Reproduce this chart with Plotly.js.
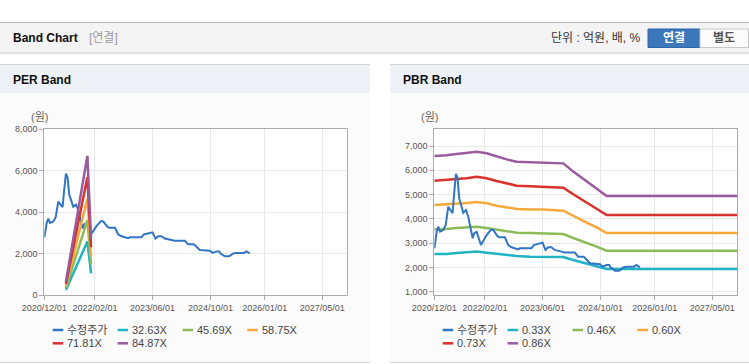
<!DOCTYPE html>
<html><head><meta charset="utf-8">
<script src="https://cdn.plot.ly/plotly-3.0.1.min.js"></script>
<style>html,body{margin:0;padding:0;background:#fff;}#chart{width:749px;height:364px;}</style>
</head><body><div id="chart"></div>
<script>
// ---- data ----
const priceName = '수정주가';
const priceDates = ['2020-12-02','2020-12-21','2021-01-04','2021-01-18','2021-02-15','2021-03-07','2021-03-29','2021-04-18','2021-05-04','2021-05-15','2021-06-01','2021-06-15','2021-06-29','2021-07-19','2021-08-02','2021-08-25','2021-09-13','2021-09-27','2021-10-20','2021-11-01','2021-11-23','2021-12-07','2021-12-29','2022-01-18','2022-02-15','2022-03-24','2022-04-12','2022-05-16','2022-06-01','2022-07-19','2022-08-16','2022-09-13','2022-11-08','2022-11-22','2023-02-28','2023-03-20','2023-05-04','2023-06-01','2023-06-26','2023-07-18','2023-08-15','2023-09-12','2023-11-07','2023-12-05','2024-02-28','2024-03-27','2024-05-14','2024-07-04','2024-09-27','2024-10-19','2024-11-22','2024-12-14','2024-12-25','2025-01-31','2025-03-08','2025-04-11','2025-05-03','2025-07-10','2025-08-01','2025-08-15','2025-08-29'];
const priceValues = [2785,3470,3680,3470,3540,3750,4500,4360,4230,4910,5850,5670,4840,4500,4250,4360,4090,3750,3200,3400,3470,3250,2920,3090,3330,3560,3540,3290,3240,3240,2920,2830,2740,2785,2785,2920,2990,3020,2720,2830,2830,2720,2650,2610,2610,2440,2440,2170,2130,2030,2100,2100,2000,1865,1865,2000,2030,2030,2100,2060,2000];

const perBandDates = ['2021-06-01','2021-11-29','2021-12-30'];
const perNames = ['32.63X','45.69X','58.75X','71.81X','84.87X'];
const per3263 = [240, 2578, 1045];
const per4569 = [336, 3610, 1463];
const per5875 = [432, 4641, 1881];
const per7181 = [528, 5673, 2299];
const per8487 = [624, 6705, 2717];

const pbrBandDates = ['2020-12-01','2021-03-15','2021-06-07','2021-08-30','2021-11-23','2022-02-15','2022-05-10','2022-08-02','2022-10-26','2023-02-15','2023-06-07','2023-11-23','2024-02-15','2024-06-06','2024-08-30','2024-11-22','2027-11-28'];
const pbrNames = ['0.33X','0.46X','0.60X','0.73X','0.86X'];
const pbr033 = [2550,2550,2590,2605,2650,2605,2550,2495,2470,2440,2440,2430,2305,2150,2030,1935,1935];
const pbr046 = [3570,3580,3620,3635,3675,3620,3555,3485,3430,3415,3405,3375,3210,3020,2855,2690,2690];
const pbr060 = [4570,4595,4625,4650,4690,4640,4540,4460,4405,4380,4380,4335,4115,3840,3650,3415,3415];
const pbr073 = [5570,5600,5640,5670,5735,5670,5560,5460,5365,5340,5325,5285,5010,4665,4420,4160,4160];
const pbr086 = [6590,6615,6670,6725,6765,6700,6560,6450,6355,6330,6315,6285,5945,5530,5215,4940,4940];

const xTickVals = ['2020-12-01','2022-02-01','2023-06-01','2024-10-01','2026-01-01','2027-05-01'];
const xTickText = ['2020/12/01','2022/02/01','2023/06/01','2024/10/01','2026/01/01','2027/05/01'];
const perYTicks = [0,2000,4000,6000,8000];
const pbrYTicks = [1000,2000,3000,4000,5000,6000,7000];

// ---- styles ----
const W = 749, H = 364;
const px = x => x / W, py = y => 1 - y / H;
const priceColor = '#3275c4';
const bandColors = ['#1fb3c4','#8dbb5a','#f5a93b','#d7322b','#9a5a9e'];
const FONT = '"Liberation Sans", "Noto Sans CJK KR", Arial, sans-serif';
const xRange = ['2020-12-01','2027-11-28'];

const perBands = [per3263, per4569, per5875, per7181, per8487];
const pbrBands = [pbr033, pbr046, pbr060, pbr073, pbr086];

const traces = [];
traces.push({x: priceDates, y: priceValues, type:'scatter', mode:'lines', name: priceName, xaxis:'x', yaxis:'y', line:{color: priceColor, width:2}});
perBands.forEach((v,i) => traces.push({x: perBandDates, y: v, type:'scatter', mode:'lines', name: perNames[i], xaxis:'x', yaxis:'y', line:{color: bandColors[i], width:2.5}}));
pbrBands.forEach((v,i) => traces.push({x: pbrBandDates, y: v, type:'scatter', mode:'lines', name: pbrNames[i], xaxis:'x2', yaxis:'y2', line:{color: bandColors[i], width:2.5}}));
traces.push({x: priceDates, y: priceValues, type:'scatter', mode:'lines', name: priceName, xaxis:'x2', yaxis:'y2', line:{color: priceColor, width:2}});

function xAxis(d0, d1, anchor){
  return {domain:[px(d0), px(d1)], anchor: anchor, type:'date', range: xRange, tickmode:'array', tickvals: xTickVals, ticktext: xTickText,
    showgrid:true, gridcolor:'#e8e8e8', gridwidth:1, showline:true, linecolor:'#ababab', linewidth:1, mirror:true,
    ticks:'outside', ticklen:4, tickcolor:'#ababab', tickfont:{size:9, color:'#555', family: FONT}, zeroline:false, fixedrange:true};
}
function yAxis(range, ticks, anchor){
  return {domain:[py(295), py(129)], anchor: anchor, range: range, tickmode:'array', tickvals: ticks, tickformat:',d',
    showgrid:true, gridcolor:'#e8e8e8', gridwidth:1, showline:true, linecolor:'#ababab', linewidth:1, mirror:true,
    ticks:'outside', ticklen:4, tickcolor:'#ababab', tickfont:{size:9, color:'#555', family: FONT}, zeroline:false, fixedrange:true};
}

const shapes = [];
const annotations = [];
function rect(x0,y0,x1,y1,fill,line){ shapes.push({type:'rect', xref:'paper', yref:'paper', x0:px(x0), x1:px(x1), y0:py(y1), y1:py(y0), fillcolor:fill, line: line ? {color: line, width:1} : {width:0}, layer:'below'}); }
function hline(x0,x1,y,color,w){ shapes.push({type:'line', xref:'paper', yref:'paper', x0:px(x0), x1:px(x1), y0:py(y), y1:py(y), line:{color:color, width:w||1}, layer:'below'}); }
function text(t,x,y,opts){ annotations.push(Object.assign({text:t, xref:'paper', yref:'paper', x:px(x), y:py(y), xanchor:'left', yanchor:'middle', showarrow:false, font:{family:FONT, size:12, color:'#222'}}, opts||{})); }

// top header bar
rect(0,22,749,53,'#f4f4f4');
hline(0,749,22.5,'#bcbcbc',1);
hline(0,749,53,'#cdcdcd',1);
hline(0,749,54,'#e6e6e6',1);
text('<b>Band Chart</b>', 11, 38.5, {font:{family:FONT, size:12, color:'#111'}});
text('[연결]', 87, 38.5, {font:{family:FONT, size:12, color:'#9a9a9a'}});
text('단위 : 억원, 배, %', 643, 38.5, {xanchor:'right', font:{family:FONT, size:12, color:'#333'}});
rect(648,29,700,47.5,'#3a77bb','#2e66a6');
rect(700,29,748.5,47.5,'#fbfbfb','#c9c9c9');
text('<b>연결</b>', 674, 38.5, {xanchor:'center', font:{family:FONT, size:12, color:'#ffffff'}});
text('<b>별도</b>', 724, 38.5, {xanchor:'center', font:{family:FONT, size:12, color:'#555'}});

// panels
[[0,370,'PER Band',11],[390,749,'PBR Band',401]].forEach(p => {
  rect(p[0],93,p[1],362,'#fbfbfb');
  rect(p[0],64,p[1],93,'#eef2f7');
  hline(p[0],p[1],64.5,'#d3d3d3',1);
  hline(p[0],p[1],362.5,'#d6d6d6',1);
  text('<b>'+p[2]+'</b>', p[3], 80, {font:{family:FONT, size:12, color:'#111'}});
});
// plot backgrounds
rect(44.3,129,347.3,295,'#ffffff');
rect(434.3,129,737.3,295,'#ffffff');
text('(원)', 39, 117, {xanchor:'center', font:{family:FONT, size:11, color:'#666'}});
text('(원)', 429, 117, {xanchor:'center', font:{family:FONT, size:11, color:'#666'}});

// custom legends
function legend(x0, names, colors){
  names.forEach((n,i) => {
    const col = i % 4, row = Math.floor(i/4);
    const lx = x0 + col*64.9, ly = 330 + row*13.3;
    shapes.push({type:'line', xref:'paper', yref:'paper', x0:px(lx), x1:px(lx+10.5), y0:py(ly), y1:py(ly), line:{color:colors[i], width:2.5}});
    text(n, lx+12.5, ly, {font:{family:FONT, size:11, color:'#444'}});
  });
}
legend(52.7, [priceName].concat(perNames), [priceColor].concat(bandColors));
legend(442.7, [priceName].concat(pbrNames), [priceColor].concat(bandColors));

const layout = {
  width: W, height: H, autosize:false, margin:{l:0,r:0,t:0,b:0,pad:0},
  paper_bgcolor:'#ffffff', plot_bgcolor:'rgba(0,0,0,0)', showlegend:false,
  font:{family:FONT},
  xaxis: xAxis(44.3, 347.3, 'y'),
  yaxis: yAxis([0,8000], perYTicks, 'x'),
  xaxis2: xAxis(434.3, 737.3, 'y2'),
  yaxis2: yAxis([863,7700], pbrYTicks, 'x2'),
  shapes: shapes, annotations: annotations
};
Plotly.newPlot('chart', traces, layout, {staticPlot:true, displayModeBar:false});
</script></body></html>
